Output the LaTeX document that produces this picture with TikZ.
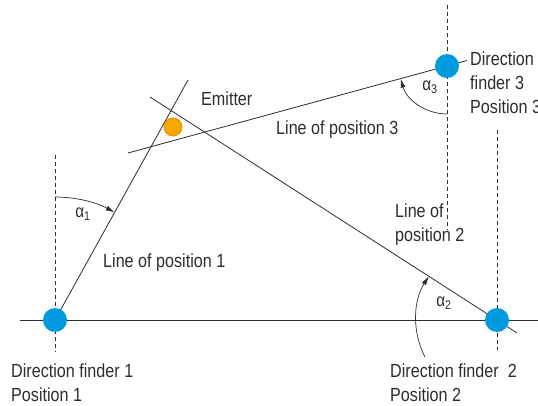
\documentclass[tikz,border=0pt]{standalone}
\usepackage{fontspec}
\setmainfont{Liberation Sans}[FakeStretch=0.85]
\usepackage{tikz}
\usetikzlibrary{arrows.meta}
\definecolor{finderblue}{RGB}{0,155,222}
\definecolor{emitterorange}{RGB}{247,168,0}
\definecolor{emitteredge}{RGB}{232,140,0}
\definecolor{linegray}{RGB}{45,45,45}

\begin{document}
\begin{tikzpicture}[
				x=1pt, y=1pt,
				finder style/.style={
					circle,
					fill=finderblue,
					minimum size=24pt,
					inner sep=0pt
				},
				emitter style/.style={
					circle,
					fill=emitterorange,
					draw=emitteredge,
					line width=0.8pt,
					minimum size=18pt,
					inner sep=0pt
				},
				lop style/.style={draw=linegray, line width=0.8pt},
				bearing style/.style={draw=linegray, line width=0.8pt, dash pattern=on 4pt off 3pt},
				angle style/.style={draw=linegray, line width=0.7pt, ->},
				label style/.style={
					font=\fontsize{19}{24}\selectfont,
					text=linegray,
					inner sep=0pt,
					align=left,
					anchor=north west
				},
				alpha style/.style={font=\fontsize{18}{20}\selectfont, text=linegray, inner sep=0pt},
				>={Latex[length=9pt,width=5pt]}
				]
				
				\useasboundingbox (0,0) rectangle (538,405);
				
				\coordinate (pos1) at (55,85);
				\coordinate (pos2) at (497,85);
				\coordinate (pos3) at (447,339);
				\coordinate (src) at (173,278);
				
				\coordinate (base west) at (20,85);
				\coordinate (base east) at (538,85);
				\coordinate (north1 top) at (55,250);
				\coordinate (north1 bot) at (55,53);
				\coordinate (north2 top) at (497,275);
				\coordinate (north2 bot) at (497,55);
				\coordinate (north3 top) at (447,400);
				\coordinate (north3 bot) at (447,175);
				\coordinate (lop1 end) at (188,325);
				\coordinate (lop2 start) at (150,308);
				\coordinate (lop2 end) at (517,72);
				\coordinate (lop3 start) at (128,252);
				\coordinate (lop3 end) at (467,344.5);
				
				\draw[lop style] (base west) -- (base east);
				\draw[bearing style] (north1 top) -- (north1 bot);
				\draw[bearing style] (north2 top) -- (north2 bot);
				\draw[bearing style] (north3 top) -- (north3 bot);
				
				\draw[lop style] (pos1) -- (lop1 end);
				\draw[lop style] (lop2 start) -- (lop2 end);
				\draw[lop style] (lop3 start) -- (lop3 end);
				
				\draw[angle style] ([shift={(90:123)}]pos1) arc[start angle=90, end angle=61, radius=123];
				\draw[angle style] ([shift={(207:81)}]pos2) arc[start angle=207, end angle=147.3, radius=81];
				\draw[angle style] ([shift={(270:48)}]pos3) arc[start angle=270, end angle=195.3, radius=48];
				
				\node[finder style] (finder1) at (pos1) {};
				\node[finder style] (finder2) at (pos2) {};
				\node[finder style] (finder3) at (pos3) {};
				\node[emitter style] (emitter) at (src) {};
				
				\node[label style] (finder1 text) at (11,41) {Direction finder 1\\Position 1};
				\node[label style] (finder2 text) at (390,41) {Direction finder~ 2\\Position 2};
				\node[label style] (finder3 text) at (470,353) {Direction\\finder 3\\Position 3};
				\node[label style] (emitter text) at (201,313) {Emitter};
				\node[label style] (lop1 text) at (103,151) {Line of position 1};
				\node[label style] (lop2 text) at (395,201) {Line of\\position 2};
				\node[label style] (lop3 text) at (276,284) {Line of position 3};
				
				\node[alpha style] (alpha1) at (83,191) {α\textsubscript{1}};
				\node[alpha style] (alpha2) at (444,102) {α\textsubscript{2}};
				\node[alpha style] (alpha3) at (430,318) {α\textsubscript{3}};
				
			\end{tikzpicture}
\end{document}
